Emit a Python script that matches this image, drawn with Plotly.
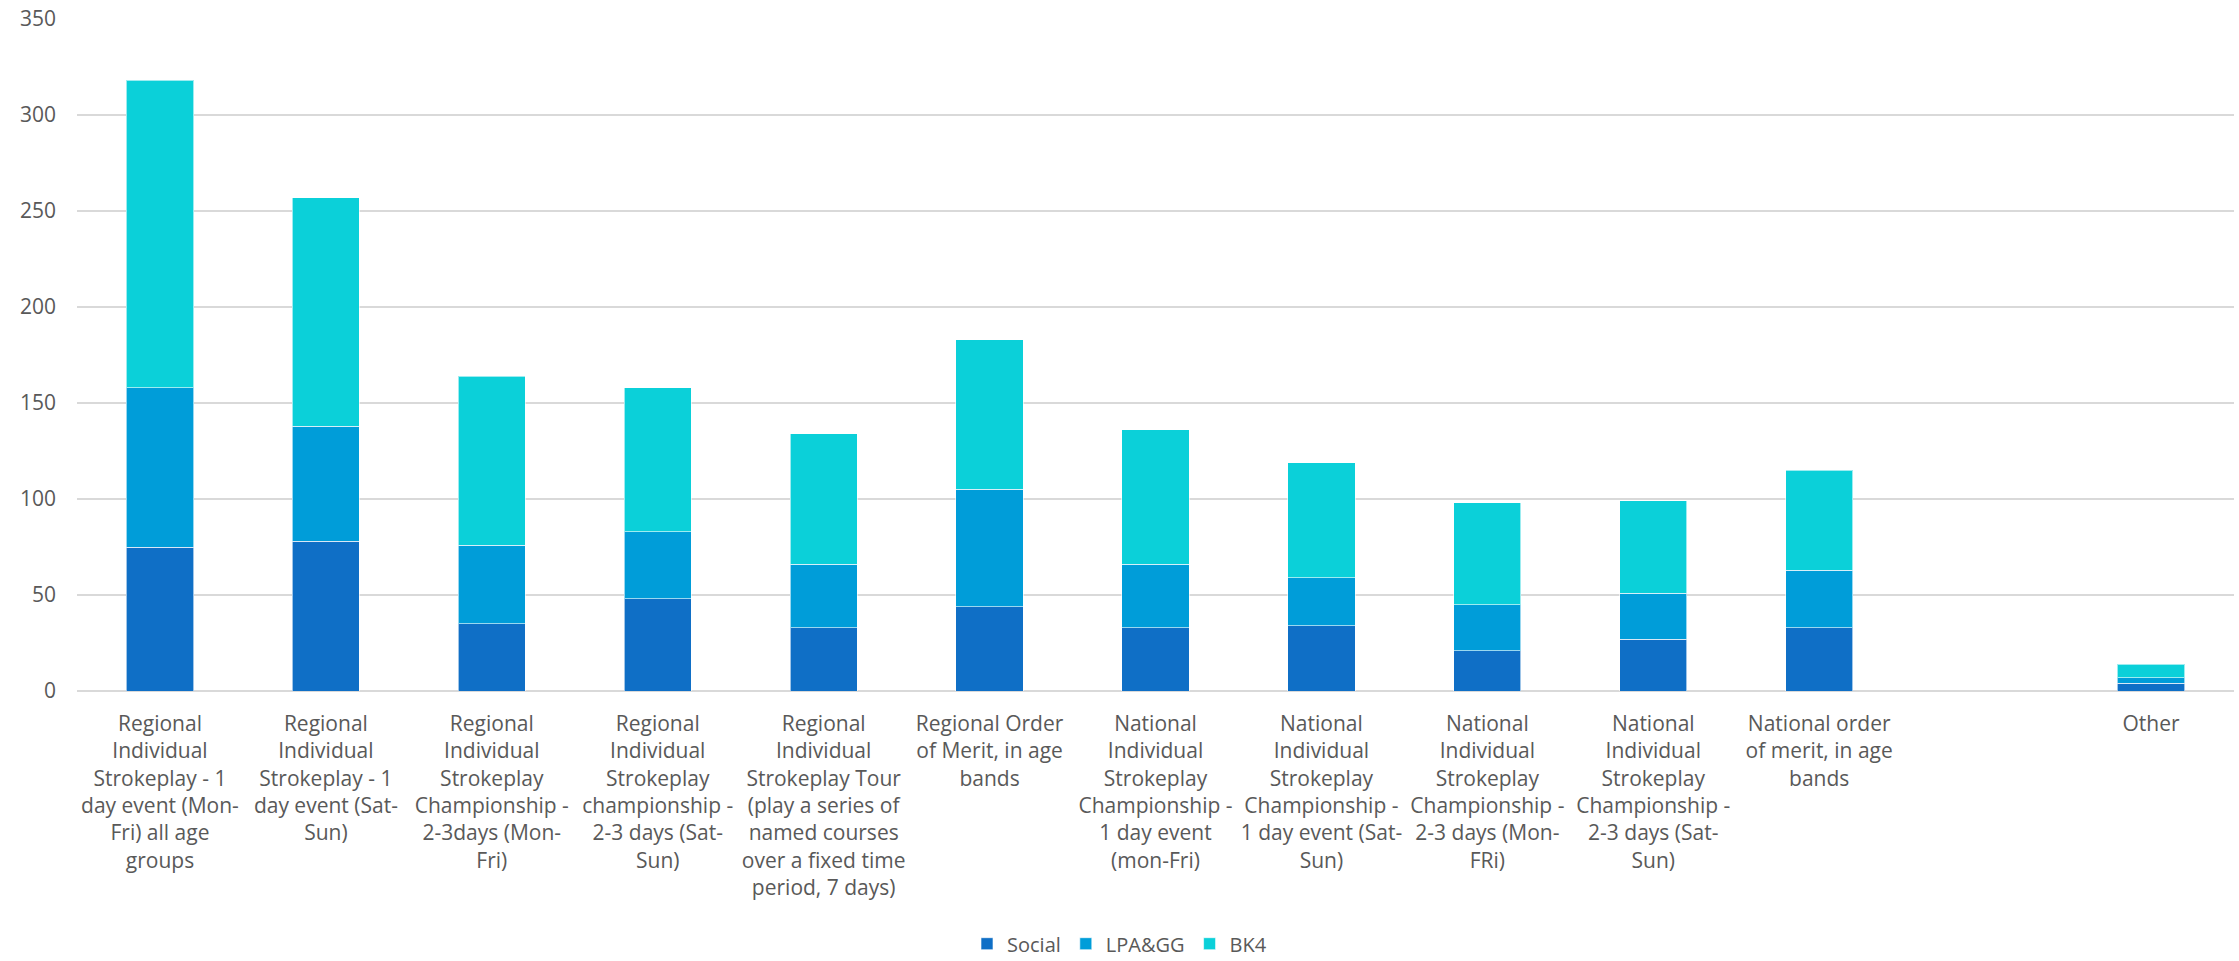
import plotly.graph_objects as go

categories = [
    "Regional<br>Individual<br>Strokeplay - 1<br>day event (Mon-<br>Fri) all age<br>groups",
    "Regional<br>Individual<br>Strokeplay - 1<br>day event (Sat-<br>Sun)",
    "Regional<br>Individual<br>Strokeplay<br>Championship -<br>2-3days (Mon-<br>Fri)",
    "Regional<br>Individual<br>Strokeplay<br>championship -<br>2-3 days (Sat-<br>Sun)",
    "Regional<br>Individual<br>Strokeplay Tour<br>(play a series of<br>named courses<br>over a fixed time<br>period, 7 days)",
    "Regional Order<br>of Merit, in age<br>bands",
    "National<br>Individual<br>Strokeplay<br>Championship -<br>1 day event<br>(mon-Fri)",
    "National<br>Individual<br>Strokeplay<br>Championship -<br>1 day event (Sat-<br>Sun)",
    "National<br>Individual<br>Strokeplay<br>Championship -<br>2-3 days (Mon-<br>FRi)",
    "National<br>Individual<br>Strokeplay<br>Championship -<br>2-3 days (Sat-<br>Sun)",
    "National order<br>of merit, in age<br>bands",
    " ",
    "Other",
]

social = [75, 78, 35, 48, 33, 44, 33, 34, 21, 27, 33, None, 4]
lpa_gg = [83, 60, 41, 35, 33, 61, 33, 25, 24, 24, 30, None, 3]
bk4 = [160, 119, 88, 75, 68, 78, 70, 60, 53, 48, 52, None, 7]

FONT = "Open Sans"

fig = go.Figure()


def add_series(values, name, color):
    fig.add_trace(go.Bar(
        x=categories, y=values, name=name,
        marker=dict(color=color, line=dict(color='rgba(255,255,255,0.6)', width=1)),
    ))


add_series(social, 'Social', '#0F6FC6')
add_series(lpa_gg, 'LPA&GG', '#009DD9')
add_series(bk4, 'BK4', '#0BD0D9')

fig.update_layout(
    width=2239, height=961,
    barmode='stack', bargap=0.595,
    plot_bgcolor='white', paper_bgcolor='white',
    font=dict(family=FONT, size=21, color='#595959'),
    margin=dict(l=77, r=5, t=19, b=270),
    showlegend=True,
    legend=dict(orientation='h', xref='container', yref='container',
                x=0.5, xanchor='center', y=0.018, yanchor='middle',
                font=dict(size=20, color='#595959'), traceorder='normal'),
    xaxis=dict(showgrid=False, ticks='', ticklabelstandoff=18,
               showline=False, tickangle=0),
    yaxis=dict(range=[0, 350], dtick=50, showgrid=True, gridcolor='#D9D9D9',
               gridwidth=1.5, zeroline=True, zerolinecolor='#D9D9D9',
               zerolinewidth=1.5, ticks='', ticklabelstandoff=20,
               ticklabeloverflow='allow',
               tickfont=dict(size=21, color='#595959')),
)

# drop the default 8px body margin so the figure fills the window exactly
fig.write_html("out.html", config={'displayModeBar': False},
               post_script="document.body.style.margin='0';")
